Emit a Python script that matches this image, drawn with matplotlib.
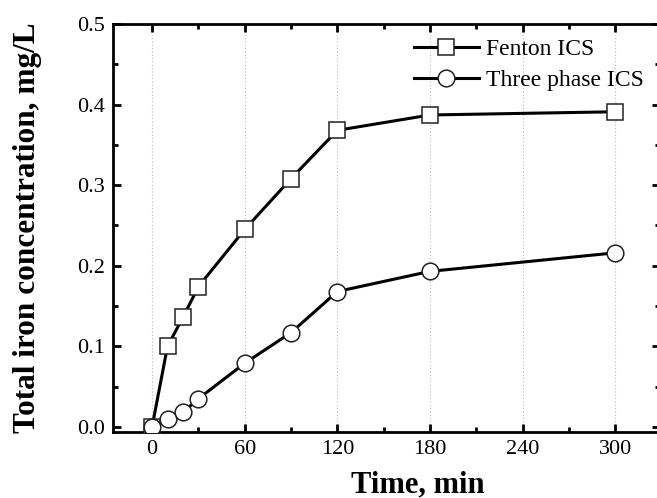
import matplotlib
matplotlib.use("Agg")
import matplotlib.pyplot as plt
from matplotlib.ticker import MultipleLocator, FormatStrFormatter

# Sampling times (min) and total dissolved iron (mg/L)
time_min = [0, 10, 20, 30, 60, 90, 120, 180, 300]
fenton_ics = [0.0, 0.100, 0.136, 0.174, 0.245, 0.308, 0.368, 0.387, 0.391]
three_phase_ics = [0.0, 0.010, 0.018, 0.035, 0.079, 0.117, 0.168, 0.193, 0.216]

series_labels = ["Fenton ICS", "Three phase ICS"]
x_label = "Time, min"
y_label = "Total iron concentration, mg/L"

plt.rcParams["font.family"] = ["Liberation Serif", "DejaVu Serif"]

fig = plt.figure(figsize=(6.57, 4.98), dpi=100)
# right edge of the frame runs just past the canvas
ax = fig.add_axes([0.172, 0.133, 0.8326, 0.819])

ax.plot(time_min, fenton_ics, color="black", lw=2.2, marker="s", ms=11.5,
        mfc="white", mec="#222222", mew=1.1, label=series_labels[0], zorder=3)
ax.plot(time_min, three_phase_ics, color="black", lw=2.2, marker="o", ms=12,
        mfc="white", mec="#222222", mew=1.1, label=series_labels[1], zorder=3)

ax.set_xlim(-25.3, 329)
ax.set_ylim(-0.006, 0.5)

ax.xaxis.set_major_locator(MultipleLocator(60))
ax.xaxis.set_minor_locator(MultipleLocator(30))
ax.yaxis.set_major_locator(MultipleLocator(0.1))
ax.yaxis.set_minor_locator(MultipleLocator(0.05))
ax.yaxis.set_major_formatter(FormatStrFormatter("%.1f"))

ax.grid(axis="x", which="major", color="#bbbbbb", ls=(0, (1, 2)), lw=0.8)

ax.tick_params(which="both", direction="in", top=True, right=True,
               width=2, labelsize=16, pad=6)
ax.tick_params(which="major", length=6)
ax.tick_params(which="minor", length=3.5)

for s in ax.spines.values():
    s.set_linewidth(2)

ax.set_xlabel(x_label, fontsize=22, fontweight="bold")
ax.set_ylabel(y_label, fontsize=22.5, fontweight="bold")
ax.xaxis.set_label_coords(0.558, -0.095)
ax.yaxis.set_label_coords(-0.13, 0.5)

ax.legend(loc="upper right", bbox_to_anchor=(0.996, 0.998), frameon=False,
          fontsize=17, handlelength=2.75, handletextpad=0.3,
          labelspacing=0.38, borderaxespad=0.2)

fig.savefig("out.png", dpi=100)
